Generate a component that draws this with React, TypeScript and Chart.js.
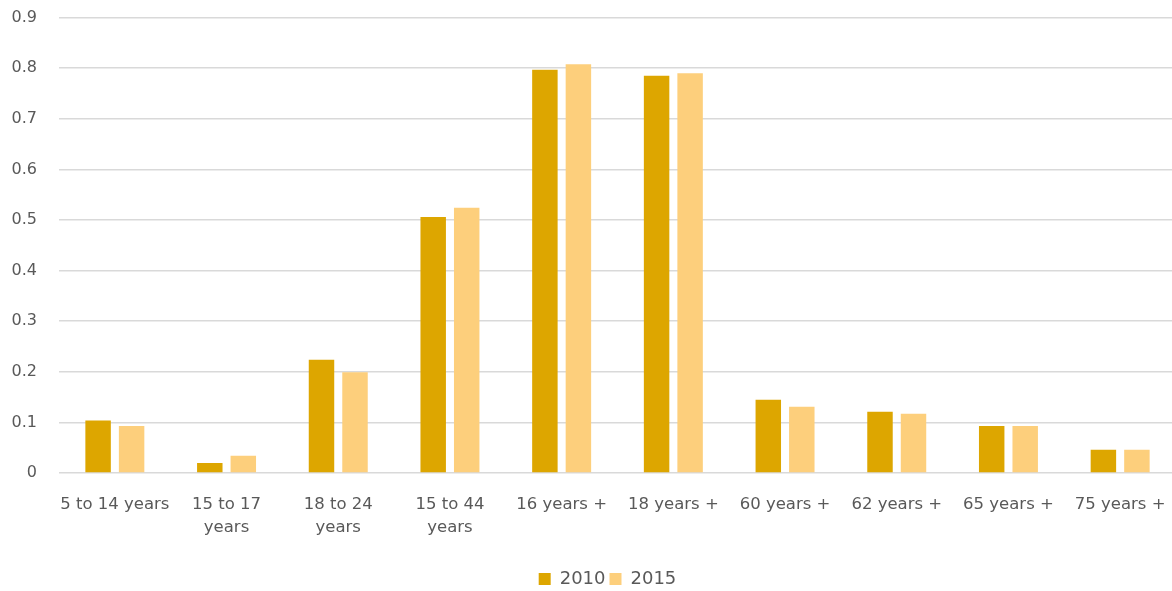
import React, { useEffect, useRef } from "react";
import { Chart, registerables } from "chart.js";

Chart.register(...registerables);

const categories: (string | string[])[] = [
  "5 to 14 years",
  ["15 to 17", "years"],
  ["18 to 24", "years"],
  ["15 to 44", "years"],
  "16 years +",
  "18 years +",
  "60 years +",
  "62 years +",
  "65 years +",
  "75 years +",
];

const values2010 = [0.104, 0.02, 0.224, 0.506, 0.797, 0.785, 0.145, 0.121, 0.093, 0.046];
const values2015 = [0.093, 0.034, 0.199, 0.524, 0.808, 0.79, 0.131, 0.117, 0.093, 0.046];

const seriesNames = ["2010", "2015"];
const yTicks = { min: 0, max: 0.9, step: 0.1 };

const fullWidthLegend = {
  id: "fullWidthLegend",
  afterLayout(chart: any) {
    const lg = chart.legend;
    if (!lg) return;
    lg.left = 0;
    lg.right = chart.width;
    lg.width = chart.width;
  },
};

export default function App() {
  const ref = useRef<HTMLCanvasElement | null>(null);

  useEffect(() => {
    if (!ref.current) return;
    const font = "'DejaVu Sans', sans-serif";
    const chart = new Chart(ref.current, {
      type: "bar",
      data: {
        labels: categories,
        datasets: [
          {
            label: seriesNames[0],
            data: values2010,
            backgroundColor: "#DDA600",
            categoryPercentage: 0.6,
            barPercentage: 0.76,
          },
          {
            label: seriesNames[1],
            data: values2015,
            backgroundColor: "#FDCF7C",
            categoryPercentage: 0.6,
            barPercentage: 0.76,
          },
        ],
      },
      plugins: [fullWidthLegend],
      options: {
        animation: false,
        responsive: true,
        maintainAspectRatio: false,
        layout: { padding: { top: 0, right: 39, left: 0, bottom: -7 } },
        plugins: {
          tooltip: { enabled: false },
          legend: {
            position: "bottom",
            labels: {
              boxWidth: 12,
              boxHeight: 12,
              color: "#595959",
              font: { family: font, size: 18 },
              padding: 4,
            },
          },
        },
        scales: {
          x: {
            grid: { display: false },
            border: { display: false },
            afterFit: (scale: any) => {
              scale.height = 93;
            },
            ticks: {
              color: "#595959",
              font: { family: font, size: 16.5, lineHeight: 1.4 },
              maxRotation: 0,
              autoSkip: false,
              padding: 12,
            },
          },
          y: {
            min: yTicks.min,
            max: yTicks.max,
            grid: { color: "#d9d9d9", drawTicks: false, lineWidth: 1.5 },
            border: { display: false },
            afterFit: (scale: any) => {
              scale.width = 59;
            },
            ticks: {
              stepSize: yTicks.step,
              color: "#595959",
              font: { family: font, size: 16 },
              padding: 22,
              callback: (v: any) => String(Number(Number(v).toFixed(1))),
            },
          },
        },
      },
    });
    return () => chart.destroy();
  }, []);

  return (
    <div
      style={{
        position: "fixed",
        left: 0,
        top: 0,
        width: 1172,
        height: 591,
        overflow: "hidden",
        background: "#fff",
      }}
    >
      <div style={{ position: "absolute", left: 0, top: -14, width: 1215, height: 605 }}>
        <canvas ref={ref} />
      </div>
    </div>
  );
}
